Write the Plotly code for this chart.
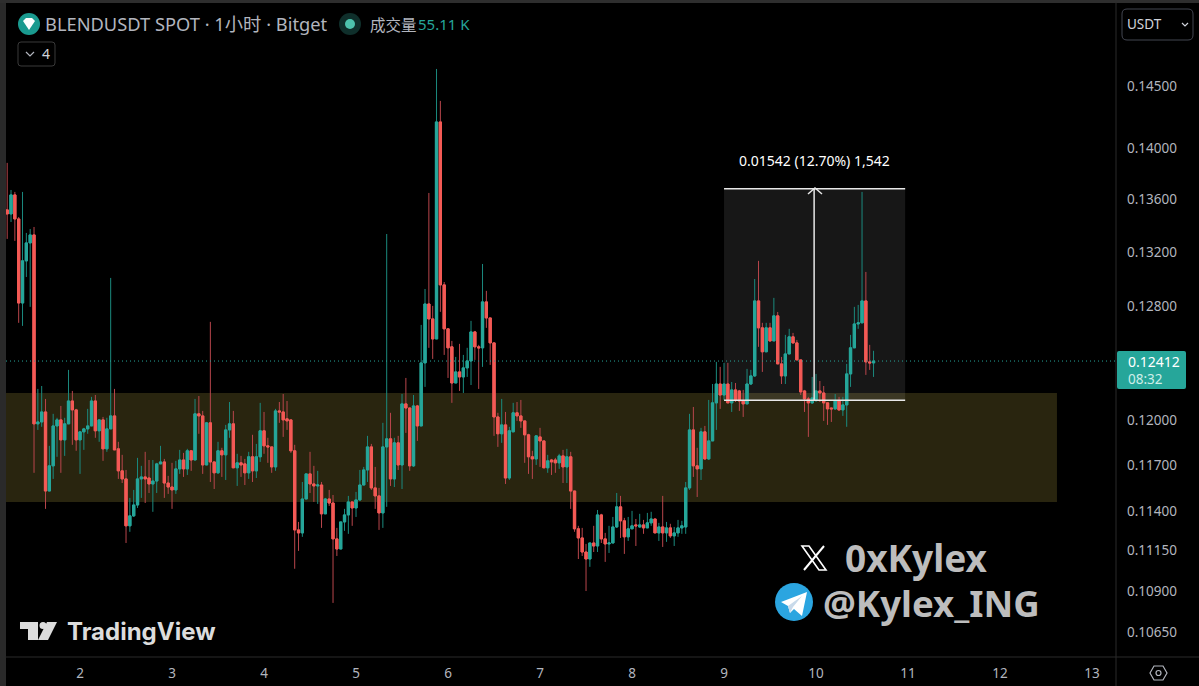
import math
import pandas as pd
import plotly.graph_objects as go

# hourly BLENDUSDT candles
open_prices = [
    0.13519, 0.13488, 0.13634, 0.13450, 0.12826, 0.13135, 0.13269, 0.13329, 0.11979, 0.11992,
    0.12060, 0.11533, 0.11698, 0.11965, 0.12006, 0.11871, 0.11979, 0.12135, 0.12074, 0.11871,
    0.11925, 0.11945, 0.11965, 0.12135, 0.11932, 0.12006, 0.11811, 0.11945, 0.12033, 0.11811,
    0.11665, 0.11612, 0.11308, 0.11372, 0.11442, 0.11612, 0.11625, 0.11618, 0.11579, 0.11598,
    0.11711, 0.11724, 0.11585, 0.11559, 0.11540, 0.11678, 0.11737, 0.11678, 0.11798, 0.11737,
    0.12047, 0.12033, 0.11704, 0.11986, 0.11724, 0.11652, 0.11798, 0.11771, 0.11938, 0.11979,
    0.11685, 0.11718, 0.11711, 0.11652, 0.11758, 0.11665, 0.11758, 0.11932, 0.11831, 0.11824,
    0.11691, 0.12067, 0.12060, 0.12013, 0.12006, 0.11798, 0.11282, 0.11263, 0.11481, 0.11645,
    0.11579, 0.11566, 0.11572, 0.11385, 0.11481, 0.11455, 0.11225, 0.11161, 0.11333, 0.11378,
    0.11462, 0.11423, 0.11475, 0.11572, 0.11671, 0.11824, 0.11553, 0.11501, 0.11391, 0.11824,
    0.11878, 0.11612, 0.11851, 0.11704, 0.12115, 0.12087, 0.11698, 0.12101, 0.11965, 0.12399,
    0.12819, 0.12711, 0.12568, 0.14208, 0.12958, 0.12640, 0.12512, 0.12259, 0.12336, 0.12301,
    0.12364, 0.12413, 0.12618, 0.12512, 0.12505, 0.12834, 0.12718, 0.12540, 0.12026, 0.11912,
    0.11972, 0.11618, 0.11925, 0.12054, 0.12033, 0.11999, 0.11905, 0.11758, 0.11744, 0.11891,
    0.11864, 0.11685, 0.11737, 0.11737, 0.11718, 0.11764, 0.11691, 0.11758, 0.11533, 0.11289,
    0.11231, 0.11142, 0.11098, 0.11199, 0.11180, 0.11378, 0.11225, 0.11193, 0.11199, 0.11301,
    0.11430, 0.11340, 0.11238, 0.11289, 0.11314, 0.11301, 0.11314, 0.11295, 0.11327, 0.11352,
    0.11263, 0.11301, 0.11263, 0.11295, 0.11244, 0.11263, 0.11295, 0.11301, 0.11553, 0.11938,
    0.11698, 0.11678, 0.11925, 0.11744, 0.11864, 0.12122, 0.12252, 0.12176, 0.12252, 0.12122,
    0.12211, 0.12204, 0.12135, 0.12115, 0.12252, 0.12308, 0.12841, 0.12647, 0.12477, 0.12647,
    0.12554, 0.12733, 0.12392, 0.12308, 0.12462, 0.12583, 0.12540, 0.12420, 0.12204, 0.12149,
    0.12122, 0.12142, 0.12204, 0.12190, 0.12122, 0.12087, 0.12081, 0.12135, 0.12074, 0.12108,
    0.12322, 0.12505, 0.12675, 0.12683, 0.12841, 0.12406, 0.12399,
]
high_prices = [
    0.13883, 0.13672, 0.13657, 0.13465, 0.13657, 0.13344, 0.13374, 0.13389, 0.12218, 0.12238,
    0.12149, 0.11831, 0.12047, 0.12020, 0.12101, 0.12020, 0.12350, 0.12204, 0.12081, 0.11925,
    0.11952, 0.12081, 0.12163, 0.12176, 0.12006, 0.12026, 0.12020, 0.13009, 0.12218, 0.11858,
    0.11771, 0.11671, 0.11488, 0.11540, 0.11751, 0.11698, 0.11791, 0.11737, 0.11737, 0.11718,
    0.11831, 0.11744, 0.11632, 0.11718, 0.11731, 0.11804, 0.11784, 0.11811, 0.11798, 0.12149,
    0.12169, 0.12067, 0.11992, 0.12690, 0.11724, 0.11858, 0.11818, 0.11972, 0.12128, 0.12067,
    0.11778, 0.11764, 0.11744, 0.11791, 0.11905, 0.11844, 0.12122, 0.12060, 0.11885, 0.11824,
    0.12081, 0.12128, 0.12183, 0.12135, 0.12006, 0.11838, 0.11333, 0.11592, 0.11645, 0.11791,
    0.11698, 0.11665, 0.11592, 0.11488, 0.11540, 0.11507, 0.11295, 0.11333, 0.11417, 0.11501,
    0.11462, 0.11527, 0.11671, 0.11691, 0.11898, 0.11844, 0.11691, 0.11553, 0.11986, 0.13336,
    0.12054, 0.11885, 0.11898, 0.12183, 0.12294, 0.12087, 0.12176, 0.12108, 0.12668, 0.12928,
    0.13649, 0.12805, 0.14640, 0.14378, 0.12979, 0.12640, 0.12554, 0.12441, 0.12533, 0.12455,
    0.12505, 0.12697, 0.12625, 0.12526, 0.13112, 0.12914, 0.12718, 0.12540, 0.12054, 0.12149,
    0.12060, 0.11959, 0.12122, 0.12128, 0.12142, 0.11999, 0.11912, 0.11798, 0.11898, 0.11952,
    0.11864, 0.11771, 0.11744, 0.11751, 0.11778, 0.11804, 0.11811, 0.11791, 0.11533, 0.11308,
    0.11295, 0.11193, 0.11199, 0.11308, 0.11410, 0.11385, 0.11263, 0.11308, 0.11365, 0.11520,
    0.11501, 0.11359, 0.11365, 0.11404, 0.11352, 0.11385, 0.11346, 0.11391, 0.11398, 0.11352,
    0.11327, 0.11501, 0.11333, 0.11321, 0.11301, 0.11346, 0.11340, 0.11592, 0.12047, 0.12094,
    0.11818, 0.11952, 0.11965, 0.12142, 0.12252, 0.12406, 0.12371, 0.12399, 0.12399, 0.12266,
    0.12259, 0.12211, 0.12211, 0.12357, 0.12350, 0.13001, 0.13135, 0.12683, 0.12683, 0.12683,
    0.12863, 0.12761, 0.12441, 0.12597, 0.12640, 0.12611, 0.12561, 0.12420, 0.12211, 0.12163,
    0.12301, 0.12322, 0.12273, 0.12238, 0.12122, 0.12087, 0.12183, 0.12163, 0.12163, 0.12392,
    0.12597, 0.12798, 0.12812, 0.13657, 0.13053, 0.12526, 0.12484,
]
low_prices = [
    0.13299, 0.13427, 0.13284, 0.12683, 0.12661, 0.13016, 0.12798, 0.11652, 0.11938, 0.11959,
    0.11417, 0.11533, 0.11612, 0.11758, 0.11652, 0.11764, 0.11979, 0.11838, 0.11798, 0.11645,
    0.11804, 0.11912, 0.11965, 0.11885, 0.11858, 0.11731, 0.11791, 0.11945, 0.11804, 0.11612,
    0.11585, 0.11199, 0.11270, 0.11365, 0.11423, 0.11488, 0.11455, 0.11520, 0.11398, 0.11520,
    0.11711, 0.11488, 0.11514, 0.11417, 0.11514, 0.11645, 0.11625, 0.11638, 0.11665, 0.11737,
    0.11912, 0.11645, 0.11704, 0.11592, 0.11546, 0.11645, 0.11625, 0.11605, 0.11885, 0.11685,
    0.11566, 0.11625, 0.11572, 0.11612, 0.11592, 0.11618, 0.11724, 0.11778, 0.11718, 0.11652,
    0.11665, 0.11986, 0.11891, 0.11938, 0.11784, 0.11037, 0.11149, 0.11238, 0.11481, 0.11520,
    0.11462, 0.11449, 0.11295, 0.11385, 0.11436, 0.10826, 0.11117, 0.11161, 0.11276, 0.11257,
    0.11308, 0.11365, 0.11468, 0.11572, 0.11592, 0.11540, 0.11417, 0.11282, 0.11295, 0.11430,
    0.11566, 0.11559, 0.11671, 0.11546, 0.11918, 0.11665, 0.11691, 0.11864, 0.11965, 0.12232,
    0.12505, 0.12427, 0.12568, 0.12762, 0.12455, 0.12294, 0.12122, 0.12259, 0.12204, 0.12190,
    0.12301, 0.12245, 0.12420, 0.12218, 0.12371, 0.12647, 0.12385, 0.11898, 0.11824, 0.11851,
    0.11579, 0.11605, 0.11925, 0.11999, 0.11952, 0.11718, 0.11645, 0.11612, 0.11704, 0.11691,
    0.11685, 0.11652, 0.11638, 0.11652, 0.11678, 0.11585, 0.11585, 0.11417, 0.11270, 0.11098,
    0.11117, 0.10899, 0.11049, 0.11142, 0.11142, 0.11199, 0.11080, 0.11136, 0.11199, 0.11295,
    0.11231, 0.11130, 0.11212, 0.11289, 0.11180, 0.11295, 0.11257, 0.11295, 0.11308, 0.11263,
    0.11212, 0.11174, 0.11206, 0.11231, 0.11180, 0.11238, 0.11257, 0.11257, 0.11540, 0.11625,
    0.11494, 0.11605, 0.11737, 0.11737, 0.11864, 0.11938, 0.12081, 0.12142, 0.12122, 0.12060,
    0.12128, 0.12067, 0.12026, 0.12115, 0.12245, 0.12301, 0.12512, 0.12336, 0.12477, 0.12547,
    0.12554, 0.12392, 0.12252, 0.12252, 0.12462, 0.12533, 0.12420, 0.12176, 0.12060, 0.11891,
    0.12115, 0.12128, 0.12128, 0.11999, 0.11972, 0.11992, 0.12074, 0.12067, 0.12033, 0.11959,
    0.12232, 0.12505, 0.12640, 0.12683, 0.12315, 0.12350, 0.12301,
]
close_prices = [
    0.13488, 0.13634, 0.13450, 0.12826, 0.13135, 0.13269, 0.13329, 0.11979, 0.11992, 0.12060,
    0.11533, 0.11698, 0.11965, 0.12006, 0.11871, 0.11979, 0.12135, 0.12074, 0.11871, 0.11925,
    0.11945, 0.11965, 0.12135, 0.11932, 0.12006, 0.11811, 0.11945, 0.12033, 0.11804, 0.11665,
    0.11612, 0.11308, 0.11372, 0.11442, 0.11612, 0.11625, 0.11612, 0.11579, 0.11598, 0.11711,
    0.11724, 0.11585, 0.11559, 0.11540, 0.11678, 0.11737, 0.11678, 0.11798, 0.11737, 0.12047,
    0.12033, 0.11704, 0.11986, 0.11724, 0.11652, 0.11798, 0.11771, 0.11938, 0.11979, 0.11685,
    0.11718, 0.11704, 0.11652, 0.11758, 0.11665, 0.11758, 0.11932, 0.11831, 0.11824, 0.11691,
    0.12067, 0.12060, 0.12006, 0.11999, 0.11798, 0.11282, 0.11263, 0.11481, 0.11645, 0.11579,
    0.11566, 0.11572, 0.11385, 0.11481, 0.11455, 0.11225, 0.11161, 0.11333, 0.11378, 0.11462,
    0.11423, 0.11475, 0.11572, 0.11671, 0.11824, 0.11553, 0.11501, 0.11391, 0.11824, 0.11878,
    0.11612, 0.11851, 0.11704, 0.12115, 0.12087, 0.11698, 0.12101, 0.11965, 0.12399, 0.12819,
    0.12711, 0.12568, 0.14208, 0.12958, 0.12640, 0.12505, 0.12259, 0.12336, 0.12301, 0.12364,
    0.12413, 0.12618, 0.12512, 0.12505, 0.12834, 0.12718, 0.12540, 0.12026, 0.11912, 0.11972,
    0.11618, 0.11932, 0.12054, 0.12033, 0.11999, 0.11905, 0.11758, 0.11744, 0.11898, 0.11864,
    0.11685, 0.11731, 0.11724, 0.11718, 0.11764, 0.11691, 0.11758, 0.11533, 0.11289, 0.11231,
    0.11142, 0.11098, 0.11199, 0.11180, 0.11378, 0.11225, 0.11193, 0.11199, 0.11301, 0.11430,
    0.11340, 0.11238, 0.11289, 0.11308, 0.11308, 0.11314, 0.11295, 0.11327, 0.11352, 0.11263,
    0.11301, 0.11263, 0.11295, 0.11244, 0.11263, 0.11295, 0.11308, 0.11553, 0.11938, 0.11698,
    0.11678, 0.11925, 0.11744, 0.11864, 0.12122, 0.12252, 0.12176, 0.12252, 0.12122, 0.12211,
    0.12142, 0.12135, 0.12115, 0.12252, 0.12308, 0.12841, 0.12647, 0.12477, 0.12647, 0.12554,
    0.12733, 0.12392, 0.12308, 0.12462, 0.12583, 0.12540, 0.12420, 0.12197, 0.12149, 0.12122,
    0.12156, 0.12204, 0.12190, 0.12122, 0.12081, 0.12081, 0.12135, 0.12074, 0.12108, 0.12322,
    0.12505, 0.12675, 0.12683, 0.12841, 0.12406, 0.12399, 0.12412,
]

price_ticks = [0.145, 0.14, 0.136, 0.132, 0.128, 0.12, 0.117, 0.114, 0.1115, 0.109, 0.1065]
day_ticks = ["2", "3", "4", "5", "6", "7", "8", "9", "10", "11", "12", "13"]
last_price = 0.12412
zone_low, zone_high = 0.11462, 0.12190
measure_low, measure_high = 0.12140, 0.13682

W, H = 1199, 686
UP, DOWN = "#26a69a", "#f45a55"
UP_WICK, DOWN_WICK = "#1b8a7e", "#b9464c"
EDGE = "#2a2a2a"

hours = pd.date_range("2025-07-01 05:00", periods=len(open_prices), freq="h")
day_dates = pd.date_range("2025-07-02", periods=len(day_ticks), freq="D")


def px(x):
    return x / W


def py(y):
    return 1 - y / H


def path(points, close=False):
    s = "M " + " L ".join(f"{px(x):.5f} {py(y):.5f}" for x, y in points)
    return s + (" Z" if close else "")


def paper_shape(d, fill=None, line=None, width=1, layer="above"):
    return dict(type="path", xref="paper", yref="paper", path=d, layer=layer,
                fillcolor=fill or "rgba(0,0,0,0)",
                line=dict(color=line or "rgba(0,0,0,0)", width=width if line else 0))


def rect(x0, y0, x1, y1, fill=None, line=None, layer="above"):
    return dict(type="rect", xref="paper", yref="paper", x0=px(x0), x1=px(x1), y0=py(y0), y1=py(y1),
                fillcolor=fill or "rgba(0,0,0,0)", layer=layer,
                line=dict(color=line or "rgba(0,0,0,0)", width=1 if line else 0))


def round_box(x0, y0, x1, y1, r):
    return (f"M {px(x0+r):.5f} {py(y0):.5f} L {px(x1-r):.5f} {py(y0):.5f} "
            f"Q {px(x1):.5f} {py(y0):.5f} {px(x1):.5f} {py(y0+r):.5f} "
            f"L {px(x1):.5f} {py(y1-r):.5f} Q {px(x1):.5f} {py(y1):.5f} {px(x1-r):.5f} {py(y1):.5f} "
            f"L {px(x0+r):.5f} {py(y1):.5f} Q {px(x0):.5f} {py(y1):.5f} {px(x0):.5f} {py(y1-r):.5f} "
            f"L {px(x0):.5f} {py(y0+r):.5f} Q {px(x0):.5f} {py(y0):.5f} {px(x0+r):.5f} {py(y0):.5f} Z")


def circle(cx, cy, r, fill=None, line=None, width=1):
    return dict(type="circle", xref="paper", yref="paper", layer="above",
                x0=px(cx - r), x1=px(cx + r), y0=py(cy + r), y1=py(cy - r),
                fillcolor=fill or "rgba(0,0,0,0)",
                line=dict(color=line or "rgba(0,0,0,0)", width=width if line else 0))


def label(x, y, text, size=13, color="#b2b5be", anchor="left", bold=False, family="Noto Sans, Noto Sans CJK SC"):
    return dict(xref="paper", yref="paper", x=px(x), y=py(y), text=text, showarrow=False,
                xanchor=anchor, yanchor="middle", borderpad=0,
                font=dict(size=size, color=color, family=family, weight="bold" if bold else "normal"))


fig = go.Figure()

# wicks first, bodies on top, the wicks look dimmer in the picture
fig.add_trace(go.Candlestick(
    x=hours, open=open_prices, high=high_prices, low=low_prices, close=close_prices,
    increasing=dict(line=dict(color=UP_WICK, width=1), fillcolor=UP_WICK),
    decreasing=dict(line=dict(color=DOWN_WICK, width=1), fillcolor=DOWN_WICK),
    whiskerwidth=0, showlegend=False,
))
fig.add_trace(go.Candlestick(
    x=hours, open=open_prices, close=close_prices,
    high=[max(o, c) for o, c in zip(open_prices, close_prices)],
    low=[min(o, c) for o, c in zip(open_prices, close_prices)],
    increasing=dict(line=dict(color=UP, width=1), fillcolor=UP),
    decreasing=dict(line=dict(color=DOWN, width=1), fillcolor=DOWN),
    whiskerwidth=0, showlegend=False,
))

shapes = [
    # yellow zone and measure box sit under the candles
    dict(type="rect", xref="x", yref="y", x0="2025-07-01 04:00", x1="2025-07-12 14:51",
         y0=zone_low, y1=zone_high, fillcolor="#29250f", line=dict(width=0), layer="below"),
    dict(type="rect", xref="x", yref="y", x0="2025-07-09 00:00", x1="2025-07-10 23:15",
         y0=measure_low, y1=measure_high, fillcolor="rgba(255,255,255,0.09)", line=dict(width=0), layer="below"),
    dict(type="line", xref="paper", yref="y", x0=px(6), x1=px(1116), y0=last_price, y1=last_price,
         line=dict(color=UP, width=1, dash="1px,3px"), layer="above"),
    dict(type="line", xref="x", yref="y", x0="2025-07-09 00:00", x1="2025-07-10 23:15",
         y0=measure_high, y1=measure_high, line=dict(color="#e8e8e8", width=1.5)),
    dict(type="line", xref="x", yref="y", x0="2025-07-09 00:00", x1="2025-07-10 23:15",
         y0=measure_low, y1=measure_low, line=dict(color="#e8e8e8", width=1.5)),
    dict(type="line", xref="x", yref="y", x0="2025-07-09 23:30", x1="2025-07-09 23:30",
         y0=measure_low, y1=measure_high, line=dict(color="#e8e8e8", width=1.5)),
    paper_shape(path([(808, 194), (815, 188), (822, 194)]), line="#e8e8e8", width=1.5),

    # panel frame
    rect(0, 0, 6, H, fill="#2a2a2a"),
    rect(0, 0, W, 3, fill="#2e2e2e"),
    paper_shape(path([(1116, 3), (1116, H)]), line=EDGE),
    paper_shape(path([(6, 657), (W, 657)]), line=EDGE),

    # legend icons
    circle(29, 24, 11, fill="#1a9a8f"),
    paper_shape(path([(23, 21), (26, 18), (32, 18), (35, 21), (29, 30)], close=True), fill="#ffffff"),
    circle(350, 24, 11, fill="#0f2f2b"),
    circle(350, 24, 5, fill="#4dc2ac"),
    paper_shape(round_box(18, 42, 55, 66, 3), line="#3a3a3a"),
    paper_shape(path([(26, 52), (30, 56), (34, 52)]), line="#b2b5be", width=1.2),

    # currency box
    paper_shape(round_box(1122, 9, 1193, 40, 5), line="#434651"),
    paper_shape(path([(1182, 23), (1185, 26), (1188, 23)]), line="#d1d4dc", width=1.2),

    # last price tag
    paper_shape(round_box(1117, 351, 1186, 389, 2), fill=UP),

    # settings hexagon
    paper_shape(path([(1150, 673), (1154, 666), (1163, 666), (1167, 673), (1163, 680), (1154, 680)], close=True),
                line="#b2b5be", width=1.2),
    circle(1158.5, 673, 2.5, line="#b2b5be", width=1.2),

    # TradingView logo
    paper_shape(path([(20, 622), (38, 622), (38, 640), (28, 640), (28, 629), (20, 629)], close=True), fill="#dcdcdc"),
    circle(43, 625.5, 3.5, fill="#dcdcdc"),
    paper_shape(path([(47, 622), (57, 622), (48, 640), (38, 640)], close=True), fill="#dcdcdc"),

    # X logo
    paper_shape(path([(802, 546), (809, 546), (826, 570), (819, 570)], close=True), line="#ffffff", width=1.6),
    paper_shape(path([(824, 546), (804, 570)]), line="#ffffff", width=2),

    # Telegram logo
    circle(794, 602, 19, fill="#2ba5e0"),
    paper_shape(path([(781, 602), (807, 592), (802, 616), (794, 609), (790, 613), (788, 606)], close=True), fill="#ffffff"),
    paper_shape(path([(788, 606), (802, 596), (793, 607), (790, 613)], close=True), fill="#c8daea"),
]

annotations = [
    label(44, 24, "BLENDUSDT SPOT · 1小时 · Bitget", size=18.3),
    label(369, 25, "成交量", size=15.5),
    label(417, 24, "55.11 K", size=15, color=UP),
    label(41, 54, "4", size=14, color="#d1d4dc"),
    label(1126, 24.5, "USDT", size=13.5, color="#d1d4dc"),
    label(1127, 361, "0.12412", size=14, color="#ffffff"),
    label(1127, 379, "08:32", size=13.5, color="#cfeee9"),
    label(814, 160, "0.01542 (12.70%) 1,542", size=14, color="#ffffff", anchor="center"),
    label(66, 631, "TradingView", size=24, color="#dcdcdc", bold=True, family="Inter"),
    label(844, 557, "0xKylex", size=37, color="#bdbdbd", bold=True),
    label(822, 603, "@Kylex_ING", size=36.6, color="#bdbdbd", bold=True),
]

fig.update_layout(
    width=W, height=H, margin=dict(l=0, r=0, t=0, b=0),
    paper_bgcolor="#000000", plot_bgcolor="#000000",
    boxmode="overlay", boxgap=0.15,
    font=dict(family="Noto Sans", color="#b2b5be", size=13),
    shapes=shapes, annotations=annotations, showlegend=False,
    xaxis=dict(
        domain=[px(6), px(1116)], type="date", range=["2025-07-01 04:41:30", "2025-07-13 06:15"],
        tickmode="array", tickvals=list(day_dates), ticktext=day_ticks,
        showgrid=False, zeroline=False, showline=False, ticks="", rangeslider=dict(visible=False),
        tickfont=dict(size=13.5, color="#b2b5be"), ticklabelstandoff=6,
    ),
    yaxis=dict(
        domain=[py(657), py(12)], type="log", side="right",
        range=[math.log10(0.10500), math.log10(0.15119)],
        tickmode="array", tickvals=price_ticks, ticktext=[f"{p:.5f}" for p in price_ticks],
        showgrid=False, zeroline=False, showline=False, ticks="",
        tickfont=dict(size=13.5, color="#b2b5be"), ticklabelstandoff=10,
    ),
)

fig.write_html("out.html", config=dict(displayModeBar=False),
               post_script="document.body.style.margin='0';document.body.style.overflow='hidden';")
